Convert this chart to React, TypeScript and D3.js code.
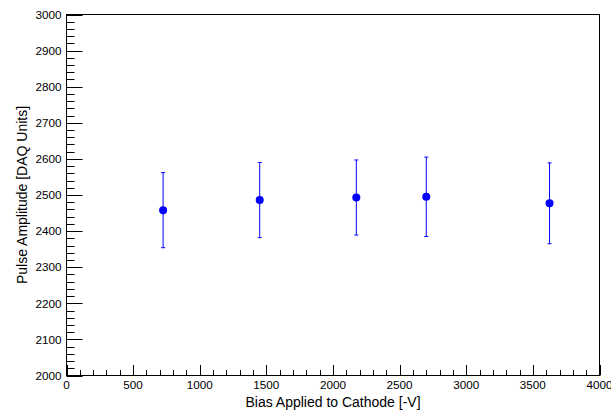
import React from "react";
import * as d3 from "d3";

const biasValues = [725, 1450, 2175, 2700, 3625];
const amplitudeValues = [2458, 2486, 2493, 2495, 2477];
const amplitudeErrors = [104, 104, 104, 110, 112];
const xMajorTicks = [0, 500, 1000, 1500, 2000, 2500, 3000, 3500, 4000];
const yMajorTicks = [2000, 2100, 2200, 2300, 2400, 2500, 2600, 2700, 2800, 2900, 3000];
const xTitle = "Bias Applied to Cathode [-V]";
const yTitle = "Pulse Amplitude [DAQ Units]";

const W = 611;
const H = 414;
const L = 66.5, R = 599.5, T = 14.5, B = 375.5;
const FONT = "'Liberation Sans', Arial, Helvetica, sans-serif";

export default function App() {
  const x = d3.scaleLinear().domain([0, 4000]).range([L, R]);
  const y = d3.scaleLinear().domain([2000, 3000]).range([B, T]);
  const xMinor = d3.range(0, 4001, 100).filter((v) => v % 500 !== 0);
  const yMinor = d3.range(2000, 3001, 20).filter((v) => v % 100 !== 0);
  const xMajLen = 10.5, xMinLen = 5.5, yMajLen = 16, yMinLen = 8;

  return (
    <svg
      width={W}
      height={H}
      style={{ position: "absolute", left: 0, top: 0, background: "#fff" }}
      fontFamily={FONT}
    >
      <rect x={0} y={0} width={W} height={H} fill="#fff" />
      <rect x={L} y={T} width={R - L} height={B - T} fill="none" stroke="#000" strokeWidth={1} />
      {xMajorTicks.map((v) => (
        <g key={"xm" + v}>
          <line x1={Math.round(x(v)) + 0.5} x2={Math.round(x(v)) + 0.5} y1={B} y2={B - xMajLen} stroke="#000" />
          <text x={x(v)} y={389} fontSize={11.7} textAnchor="middle" fill="#000">
            {v}
          </text>
        </g>
      ))}
      {xMinor.map((v) => (
        <line key={"xn" + v} x1={Math.round(x(v)) + 0.5} x2={Math.round(x(v)) + 0.5} y1={B} y2={B - xMinLen} stroke="#000" />
      ))}
      {yMajorTicks.map((v) => (
        <g key={"ym" + v}>
          <line x1={L} x2={L + yMajLen} y1={Math.round(y(v)) + 0.5} y2={Math.round(y(v)) + 0.5} stroke="#000" />
          <text x={61.5} y={y(v) + 4.2} fontSize={11.7} textAnchor="end" fill="#000">
            {v}
          </text>
        </g>
      ))}
      {yMinor.map((v) => (
        <line key={"yn" + v} x1={L} x2={L + yMinLen} y1={Math.round(y(v)) + 0.5} y2={Math.round(y(v)) + 0.5} stroke="#000" />
      ))}
      <text x={(L + R) / 2} y={406.5} fontSize={14} textAnchor="middle" fill="#000">
        {xTitle}
      </text>
      <text
        transform={`translate(27,${(T + B) / 2}) rotate(-90)`}
        fontSize={14}
        textAnchor="middle"
        fill="#000"
      >
        {yTitle}
      </text>
      {biasValues.map((bv, i) => {
        const cx = x(bv);
        const y0 = y(amplitudeValues[i] - amplitudeErrors[i]);
        const y1 = y(amplitudeValues[i] + amplitudeErrors[i]);
        return (
          <g key={"p" + i}>
            <line x1={cx} x2={cx} y1={y0} y2={y1} stroke="#0000ff" strokeWidth={1} />
            <line x1={cx - 2} x2={cx + 2} y1={y0} y2={y0} stroke="#0000ff" strokeWidth={1} />
            <line x1={cx - 2} x2={cx + 2} y1={y1} y2={y1} stroke="#0000ff" strokeWidth={1} />
            <circle cx={cx} cy={y(amplitudeValues[i])} r={4} fill="#0000ff" />
          </g>
        );
      })}
    </svg>
  );
}
